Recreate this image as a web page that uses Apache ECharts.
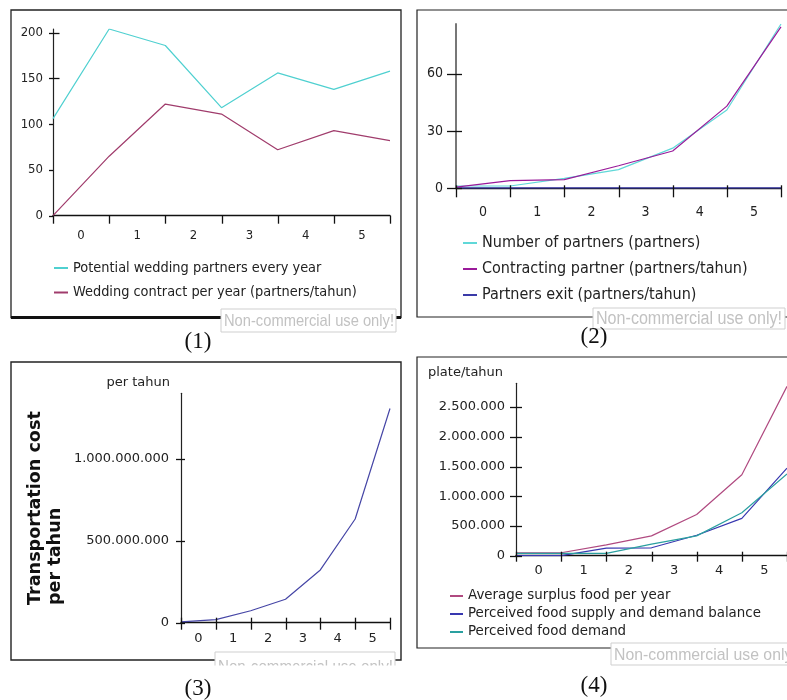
<!DOCTYPE html>
<html>
<head>
<meta charset="utf-8">
<script src="https://cdn.jsdelivr.net/npm/echarts@6/dist/echarts.min.js"></script>
<style>
  html, body { margin: 0; padding: 0; background: #fff; }
  #main { width: 787px; height: 700px; }
</style>
</head>
<body>
<div id="main"></div>
<script>
// x labels sit between ticks, the points sit on the ticks
var xLabels = ['0', '1', '2', '3', '4', '5'];
var xSteps = [0, 1, 2, 3, 4, 5, 6];

// (1)
var potentialPartners = [106, 204, 186, 118, 156, 138, 158];
var weddingContracts = [0, 65, 122, 111, 72, 93, 82];
// (2)
var numberOfPartners = [1.2, 1.2, 5.2, 9.8, 21, 41, 86];
var contractingPartner = [0.6, 4.0, 4.5, 11.8, 19.5, 43, 84.5];
var partnersExit = [0.2, 0.2, 0.2, 0.2, 0.2, 0.2, 0.2];
// (3)
var transportCost = [5e6, 19e6, 73e6, 143e6, 322e6, 633e6, 1307e6];
// (4)
var surplusFood = [50e3, 50e3, 183e3, 333e3, 694e3, 1361e3, 2848e3];
var foodBalance = [0, 0, 128e3, 133e3, 344e3, 628e3, 1472e3];
var foodDemand = [39e3, 39e3, 39e3, 194e3, 333e3, 722e3, 1376e3];

var ticks1 = [0, 50, 100, 150, 200];
var ticks2 = [0, 30, 60];
var ticks3 = [0, 500000000, 1000000000];
var ticks4 = [0, 500000, 1000000, 1500000, 2000000, 2500000];

function pts(vals) {
    return vals.map(function (v, i) { return [xSteps[i], v]; });
}
function dots(v) {
    return String(Math.round(v)).replace(/\B(?=(\d{3})+(?!\d))/g, '.');
}

var grids = [
    {left: 53, top: 29, width: 337, height: 186.7},
    {left: 456, top: 24, width: 325, height: 164.3},
    {left: 181, top: 393.3, width: 209, height: 229.4},
    {left: 516, top: 383.3, width: 271, height: 172.4}
];
var fonts = [
    {f: 'DejaVu Sans Condensed', s: 13, xm: 13, ym: 10},
    {f: 'DejaVu Sans Condensed', s: 14, xm: 17, ym: 13},
    {f: 'DejaVu Sans', s: 13, xm: 9, ym: 12},
    {f: 'DejaVu Sans', s: 13, xm: 8, ym: 11}
];
// tick mark reach on each side of the axis line: y [left, right], x [up, down]
var tickReach = [
    {y: [4, 0], x: [0, 8]},
    {y: [9, 6], x: [3, 9]},
    {y: [5, 4], x: [5, 7]},
    {y: [6, 6], x: [4, 6]}
];

var xAxis = [], yAxis = [];
var yCfg = [
    {max: 204, step: 50, ticks: ticks1},
    {max: 86, step: 30, ticks: ticks2},
    {max: 1400000000, step: 500000000, ticks: ticks3},
    {max: 2900000, step: 500000, ticks: ticks4}
];
grids.forEach(function (g, i) {
    var ft = fonts[i];
    xAxis.push({
        type: 'category', gridIndex: i, data: xLabels, boundaryGap: true,
        axisLine: {show: true, lineStyle: {color: '#111', width: 1.3}},
        axisTick: {show: false},
        axisLabel: {fontFamily: ft.f, fontSize: ft.s, color: '#222', margin: ft.xm}
    });
    xAxis.push({type: 'value', gridIndex: i, min: 0, max: 6, show: false});
    yAxis.push({
        type: 'value', gridIndex: i, min: 0, max: yCfg[i].max, interval: yCfg[i].step,
        splitLine: {show: false},
        axisLine: {show: true, lineStyle: {color: i === 1 ? '#777' : '#222', width: i === 1 ? 2 : 1.2}},
        axisTick: {show: false},
        axisLabel: {
            customValues: yCfg[i].ticks, fontFamily: ft.f, fontSize: ft.s, color: '#222', margin: ft.ym,
            formatter: dots
        }
    });
});

function line(name, vals, gi, color) {
    return {
        name: name, type: 'line', xAxisIndex: gi * 2 + 1, yAxisIndex: gi,
        data: pts(vals), showSymbol: false, symbol: 'none',
        lineStyle: {color: color, width: 1.2}, itemStyle: {color: color}
    };
}

var series = [
    line('Potential wedding partners every year', potentialPartners, 0, '#4fd0d0'),
    line('Wedding contract per year (partners/tahun)', weddingContracts, 0, '#a03c6c'),
    line('Partners exit (partners/tahun)', partnersExit, 1, '#3a3aa8'),
    line('Number of partners (partners)', numberOfPartners, 1, '#60d8d8'),
    line('Contracting partner (partners/tahun)', contractingPartner, 1, '#9a1a9a'),
    line('Transportation cost per tahun', transportCost, 2, '#4646a6'),
    line('Average surplus food per year', surplusFood, 3, '#b04a80'),
    line('Perceived food supply and demand balance', foodBalance, 3, '#3838b0'),
    line('Perceived food demand', foodDemand, 3, '#2aa0a0')
];

function legend(names, left, top, gap, lh, iw, ft, fs) {
    return {
        data: names, orient: 'vertical', left: left, top: top, padding: 0,
        itemGap: gap, itemWidth: iw, itemHeight: 2, icon: 'rect',
        textStyle: {fontFamily: ft, fontSize: fs, color: '#222', lineHeight: lh}
    };
}

function frame(x, y, w, h, lw) {
    return {type: 'rect', shape: {x: x, y: y, width: w, height: h}, z: 1,
        style: {fill: 'none', stroke: '#222', lineWidth: lw}};
}
function stamp(x, y, w, h, size, sx) {
    return [
        {type: 'rect', shape: {x: x, y: y, width: w, height: h}, z: 10,
            style: {fill: '#fff', stroke: '#cfcfcf', lineWidth: 1}},
        {type: 'text', x: x + 3, y: y + h / 2 + 1, scaleX: sx, z: 11,
            style: {text: 'Non-commercial use only!', fill: '#c2c2c2', font: size + 'px "Liberation Sans"',
                textAlign: 'left', textVerticalAlign: 'middle'}}
    ];
}
function caption(t, x, y) {
    return {type: 'text', x: x, y: y, z: 20,
        style: {text: t, fill: '#111', font: '23px "Liberation Serif"', textAlign: 'center', textVerticalAlign: 'middle'}};
}

var graphic = [
    frame(11, 10, 390, 307.5, 1.3),
    {type: 'line', shape: {x1: 11, y1: 317.5, x2: 401, y2: 317.5}, z: 1, style: {stroke: '#111', lineWidth: 3}},
    frame(417, 10, 380, 307, 1.2),
    frame(11, 362, 390, 298, 1.4),
    frame(417, 357, 380, 291, 1.2)
]
    .concat(stamp(221, 309, 175, 23, 17, 0.865))
    .concat(stamp(593, 308, 192, 21, 18, 0.894))
    .concat(stamp(215, 652, 180, 30, 16, 0.946))
    .concat([{type: 'rect', shape: {x: 214, y: 665.5, width: 190, height: 40}, z: 12, style: {fill: '#fff'}}])
    .concat(stamp(611, 643, 190, 22, 17, 0.93))
    .concat([
        caption('(1)', 198, 342),
        caption('(2)', 594, 337),
        caption('(3)', 198, 689),
        caption('(4)', 594, 686),
        {type: 'text', x: 170, y: 383, z: 5,
            style: {text: 'per tahun', fill: '#222', font: '13px "DejaVu Sans"', textAlign: 'right', textVerticalAlign: 'middle'}},
        {type: 'text', x: 428, y: 373, z: 5,
            style: {text: 'plate/tahun', fill: '#222', font: '13px "DejaVu Sans"', textAlign: 'left', textVerticalAlign: 'middle'}},
        {type: 'text', x: 45, y: 605, rotation: Math.PI / 2, z: 5,
            style: {text: 'Transportation cost\nper tahun', fill: '#111', font: 'bold 17.6px "DejaVu Sans"',
                lineHeight: 20, textAlign: 'left', textVerticalAlign: 'middle'}}
    ]);

var chart = echarts.init(document.getElementById('main'));
chart.setOption({
    animation: false,
    backgroundColor: '#fff',
    grid: grids,
    xAxis: xAxis,
    yAxis: yAxis,
    legend: [
        legend(['Potential wedding partners every year', 'Wedding contract per year (partners/tahun)'],
            54, 260, 8.5, 16, 14, 'DejaVu Sans Condensed', 14.4),
        legend(['Number of partners (partners)', 'Contracting partner (partners/tahun)', 'Partners exit (partners/tahun)'],
            463, 235, 10, 16, 14, 'DejaVu Sans Condensed', 16),
        legend(['Average surplus food per year', 'Perceived food supply and demand balance', 'Perceived food demand'],
            450, 589, 4, 14, 13, 'DejaVu Sans', 13.4)
    ],
    series: series,
    graphic: graphic
});

// tick marks, placed through the axes' own scales
function tickLine(x1, y1, x2, y2) {
    return {type: 'line', z: 6, shape: {x1: x1, y1: y1, x2: x2, y2: y2},
        style: {stroke: '#111', lineWidth: 1.3}};
}
var tickMarks = [];
yCfg.forEach(function (c, i) {
    var ax = chart.convertToPixel({xAxisIndex: i * 2 + 1}, 0);
    var ay = chart.convertToPixel({yAxisIndex: i}, 0);
    var r = tickReach[i];
    c.ticks.forEach(function (v) {
        var y = Math.round(chart.convertToPixel({yAxisIndex: i}, v)) + 0.5;
        var right = (i === 0 && v >= 150) ? 6.5 : r.y[1];
        tickMarks.push(tickLine(ax - r.y[0], y, ax + right, y));
    });
    xSteps.forEach(function (s) {
        var x = Math.round(chart.convertToPixel({xAxisIndex: i * 2 + 1}, s)) + 0.5;
        tickMarks.push(tickLine(x, ay - r.x[0], x, ay + r.x[1]));
    });
});
chart.setOption({graphic: graphic.concat(tickMarks)});
</script>
</body>
</html>
